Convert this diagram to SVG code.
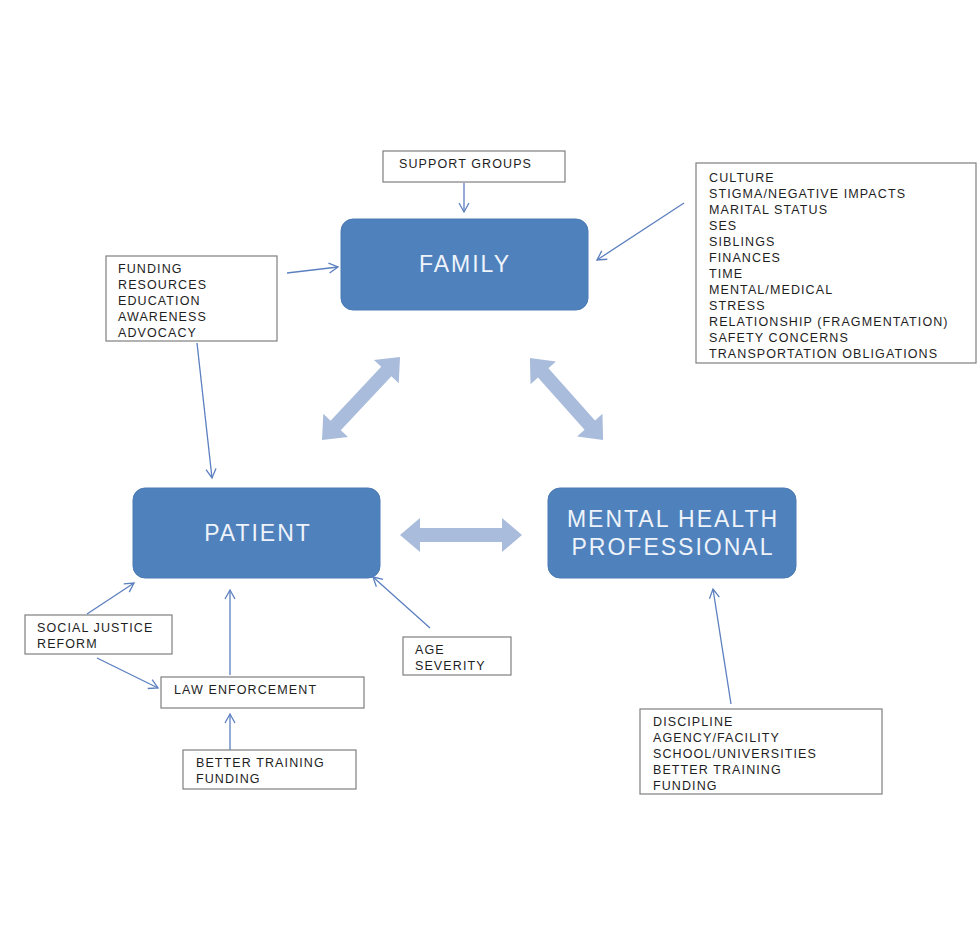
<svg xmlns="http://www.w3.org/2000/svg" width="977" height="942" viewBox="0 0 977 942">
<defs>
<style>
.main{fill:#4f81bd;stroke:#4a7ab3;stroke-width:1}
.mt{font-family:"Liberation Sans",Arial,sans-serif;font-size:23px;letter-spacing:2px;fill:#eef3fa;text-anchor:middle}
.box{fill:#fff;stroke:#7f7f7f;stroke-width:1.2}
.t{font-family:"Liberation Sans",Arial,sans-serif;font-size:12.5px;letter-spacing:1.1px;fill:#1e1e1e}
.c{stroke:#5b7fbf;stroke-width:1.3;fill:none;marker-end:url(#ah)}
.big{fill:#a9bcdc}
</style>
<marker id="ah" viewBox="0 0 12 12" refX="10" refY="6" markerWidth="12" markerHeight="12" markerUnits="userSpaceOnUse" orient="auto">
<path d="M1,1 L10,6 L1,11" fill="none" stroke="#5b7fbf" stroke-width="1.3"/>
</marker>
</defs>
<rect width="977" height="942" fill="#fff"/>

<g id="family"><rect class="main" x="341" y="219" width="247" height="91" rx="12"/><text class="mt" x="465" y="272">FAMILY</text></g>
<g id="patient"><rect class="main" x="133" y="488" width="247" height="90" rx="12"/><text class="mt" x="258" y="541">PATIENT</text></g>
<g id="mhp"><rect class="main" x="548" y="488" width="248" height="90" rx="12"/><text class="mt" x="673" y="527">MENTAL HEALTH</text><text class="mt" x="673" y="555">PROFESSIONAL</text></g>

<g id="support"><rect class="box" x="383" y="151" width="182" height="31"/><text class="t" x="399" y="168">SUPPORT GROUPS</text></g>
<g id="familyfactors"><rect class="box" x="696" y="163" width="280" height="200"/>
<text class="t" x="709" y="182">CULTURE</text>
<text class="t" x="709" y="198">STIGMA/NEGATIVE IMPACTS</text>
<text class="t" x="709" y="214">MARITAL STATUS</text>
<text class="t" x="709" y="230">SES</text>
<text class="t" x="709" y="246">SIBLINGS</text>
<text class="t" x="709" y="262">FINANCES</text>
<text class="t" x="709" y="278">TIME</text>
<text class="t" x="709" y="294">MENTAL/MEDICAL</text>
<text class="t" x="709" y="310">STRESS</text>
<text class="t" x="709" y="326">RELATIONSHIP (FRAGMENTATION)</text>
<text class="t" x="709" y="342">SAFETY CONCERNS</text>
<text class="t" x="709" y="358">TRANSPORTATION OBLIGATIONS</text>
</g>
<g id="funding"><rect class="box" x="106" y="256" width="171" height="85"/>
<text class="t" x="118" y="273">FUNDING</text>
<text class="t" x="118" y="289">RESOURCES</text>
<text class="t" x="118" y="305">EDUCATION</text>
<text class="t" x="118" y="321">AWARENESS</text>
<text class="t" x="118" y="337">ADVOCACY</text>
</g>
<g id="social"><rect class="box" x="25" y="615" width="147" height="39"/>
<text class="t" x="37" y="632">SOCIAL JUSTICE</text>
<text class="t" x="37" y="648">REFORM</text>
</g>
<g id="law"><rect class="box" x="161" y="677" width="203" height="31"/><text class="t" x="174" y="694">LAW ENFORCEMENT</text></g>
<g id="training"><rect class="box" x="183" y="750" width="173" height="39"/>
<text class="t" x="196" y="767">BETTER TRAINING</text>
<text class="t" x="196" y="783">FUNDING</text>
</g>
<g id="age"><rect class="box" x="403" y="637" width="108" height="38"/>
<text class="t" x="415" y="654">AGE</text>
<text class="t" x="415" y="670">SEVERITY</text>
</g>
<g id="discipline"><rect class="box" x="640" y="709" width="242" height="85"/>
<text class="t" x="653" y="726">DISCIPLINE</text>
<text class="t" x="653" y="742">AGENCY/FACILITY</text>
<text class="t" x="653" y="758">SCHOOL/UNIVERSITIES</text>
<text class="t" x="653" y="774">BETTER TRAINING</text>
<text class="t" x="653" y="790">FUNDING</text>
</g>

<g id="connectors">
<line class="c" x1="464" y1="183" x2="464" y2="212"/>
<line class="c" x1="684" y1="203" x2="597" y2="260"/>
<line class="c" x1="287" y1="273" x2="338" y2="267"/>
<line class="c" x1="197" y1="343" x2="212" y2="478"/>
<line class="c" x1="87" y1="614" x2="134" y2="583"/>
<line class="c" x1="97" y1="658" x2="158" y2="688"/>
<line class="c" x1="230" y1="675" x2="230" y2="590"/>
<line class="c" x1="230" y1="750" x2="230" y2="714"/>
<line class="c" x1="430" y1="628" x2="373" y2="577"/>
<line class="c" x1="731" y1="704" x2="713" y2="589"/>
<polygon class="big" transform="translate(461,535)" points="-61,0 -41,-17 -41,-7 41,-7 41,-17 61,0 41,17 41,7 -41,7 -41,17"/>
<polygon class="big" transform="translate(361,398.5) rotate(-46.8)" points="-57,0 -37,-17 -37,-7 37,-7 37,-17 57,0 37,17 37,7 -37,7 -37,17"/>
<polygon class="big" transform="translate(566.5,399) rotate(48.3)" points="-55,0 -35,-17 -35,-7 35,-7 35,-17 55,0 35,17 35,7 -35,7 -35,17"/>
</g>
</svg>
